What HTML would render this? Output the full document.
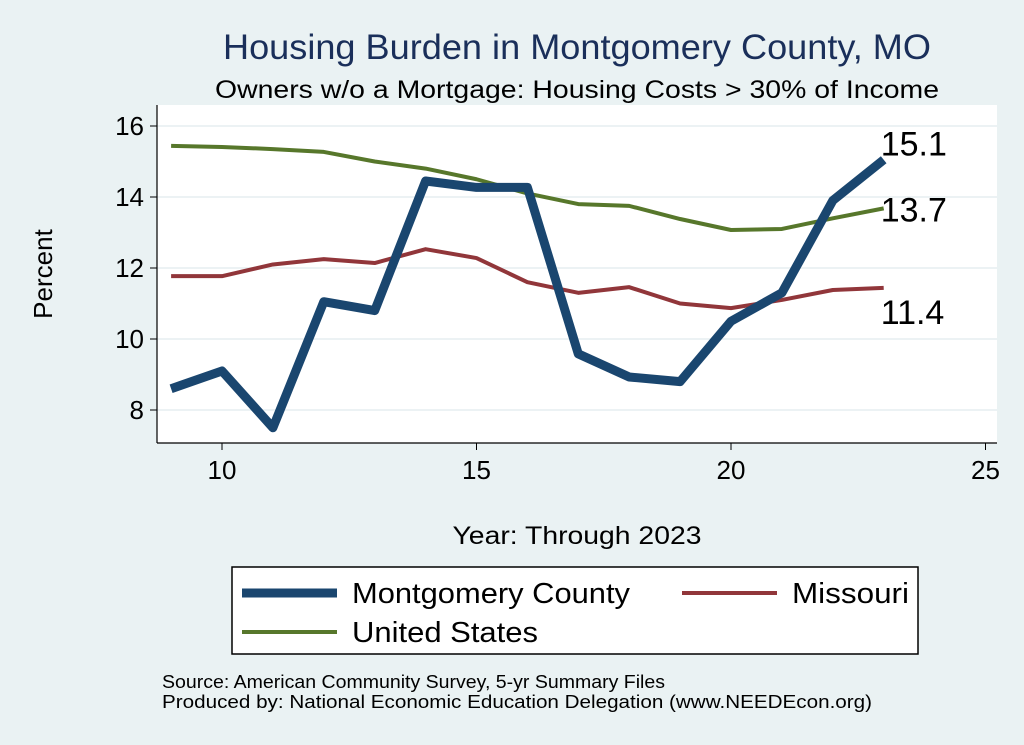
<!DOCTYPE html>
<html><head><meta charset="utf-8"><style>
body{margin:0;background:#eaf2f3;}
svg{display:block;font-family:"Liberation Sans",Arial,sans-serif;}
</style></head><body>
<svg width="1024" height="745" viewBox="0 0 1024 745">
<rect x="0" y="0" width="1024" height="745" fill="#eaf2f3"/>
<rect x="157" y="105" width="840" height="338" fill="#ffffff"/>
<g id="grid"></g>
<g id="axes"></g>
<g id="series"></g>
<text x="577" y="59" text-anchor="middle" font-size="35" fill="#1a2f5a" textLength="708" lengthAdjust="spacingAndGlyphs">Housing Burden in Montgomery County, MO</text>
<text x="577" y="98" text-anchor="middle" font-size="25" fill="#000" textLength="724" lengthAdjust="spacingAndGlyphs">Owners w/o a Mortgage: Housing Costs &gt; 30% of Income</text>
<text x="52" y="274" text-anchor="middle" font-size="26" transform="rotate(-90 52 274)">Percent</text>
<text x="577" y="544" text-anchor="middle" font-size="25" textLength="249" lengthAdjust="spacingAndGlyphs">Year: Through 2023</text>
<g>
<rect x="232" y="567" width="686" height="87" fill="#fff" stroke="#000" stroke-width="1.5"/>
<line x1="242" y1="593" x2="337" y2="593" stroke="#1a466f" stroke-width="9"/>
<text x="352" y="603" font-size="29" textLength="278" lengthAdjust="spacingAndGlyphs">Montgomery County</text>
<line x1="682" y1="593" x2="777" y2="593" stroke="#91363a" stroke-width="4"/>
<text x="792" y="603" font-size="29" textLength="117" lengthAdjust="spacingAndGlyphs">Missouri</text>
<line x1="242" y1="632" x2="337" y2="632" stroke="#57772b" stroke-width="4"/>
<text x="352" y="642" font-size="29" textLength="186" lengthAdjust="spacingAndGlyphs">United States</text>
</g>
<text x="162" y="688" font-size="18" textLength="503" lengthAdjust="spacingAndGlyphs">Source: American Community Survey, 5-yr Summary Files</text>
<text x="162" y="708" font-size="18" textLength="710" lengthAdjust="spacingAndGlyphs">Produced by: National Economic Education Delegation (www.NEEDEcon.org)</text>
</svg>
<script>
const years=[9,10,11,12,13,14,15,16,17,18,19,20,21,22,23];
const montgomery=[8.6,9.1,7.5,11.05,10.8,14.45,14.27,14.27,9.58,8.93,8.8,10.5,11.3,13.9,15.05];
const missouri=[11.77,11.77,12.1,12.25,12.14,12.53,12.28,11.6,11.3,11.46,11.0,10.87,11.1,11.38,11.44];
const us=[15.44,15.41,15.35,15.27,15.0,14.8,14.5,14.1,13.8,13.75,13.38,13.07,13.1,13.4,13.68];
const xTicks=[10,15,20,25];
const yTicks=[8,10,12,14,16];
const NS="http://www.w3.org/2000/svg";
function sx(v){return 222+(v-10)*50.9;}
function sy(v){return 126+(16-v)*35.5;}
function mk(tag,attrs,parent){const e=document.createElementNS(NS,tag);for(const k in attrs)e.setAttribute(k,attrs[k]);parent.appendChild(e);return e;}
const grid=document.getElementById('grid'),axes=document.getElementById('axes'),ser=document.getElementById('series');
mk('line',{x1:157,y1:105,x2:157,y2:443,stroke:'#000','stroke-width':1.2},axes);
mk('line',{x1:157,y1:443,x2:997,y2:443,stroke:'#000','stroke-width':1.2},axes);
yTicks.forEach(t=>{
 const g=mk('line',{x1:157,y1:sy(t),x2:997,y2:sy(t),stroke:'#e6eef0','stroke-width':1.5},grid);
 
 
 mk('line',{x1:150,y1:sy(t),x2:157,y2:sy(t),stroke:'#000'},axes);
 const tx=mk('text',{x:144,y:sy(t)+9,'text-anchor':'end','font-size':26},axes);tx.textContent=t;
 
 
});
xTicks.forEach(t=>{
 mk('line',{x1:sx(t),y1:443,x2:sx(t),y2:450,stroke:'#000'},axes);
 const tx=mk('text',{x:sx(t),y:479,'text-anchor':'middle','font-size':26},axes);tx.textContent=t;
 
 
});
function line(vals,color,w,name){
 const p=mk('polyline',{points:vals.map((v,i)=>sx(years[i])+','+sy(v)).join(' '),fill:'none',stroke:color,'stroke-width':w,'stroke-linejoin':'round'},ser);
 
 
}
line(missouri,'#91363a',4,'line-missouri');
line(us,'#57772b',4,'line-us');
line(montgomery,'#1a466f',9,'line-montgomery');
function lab(vals,dy,name){
 const v=vals[vals.length-1];
 const t=mk('text',{x:sx(years[years.length-1])-3,y:sy(v)+dy,'font-size':34},ser);
 t.textContent=v.toFixed(1);
 
 
}
lab(montgomery,-4,'label-montgomery');
lab(us,13,'label-us');
lab(missouri,36,'label-missouri');
</script>
</body></html>
